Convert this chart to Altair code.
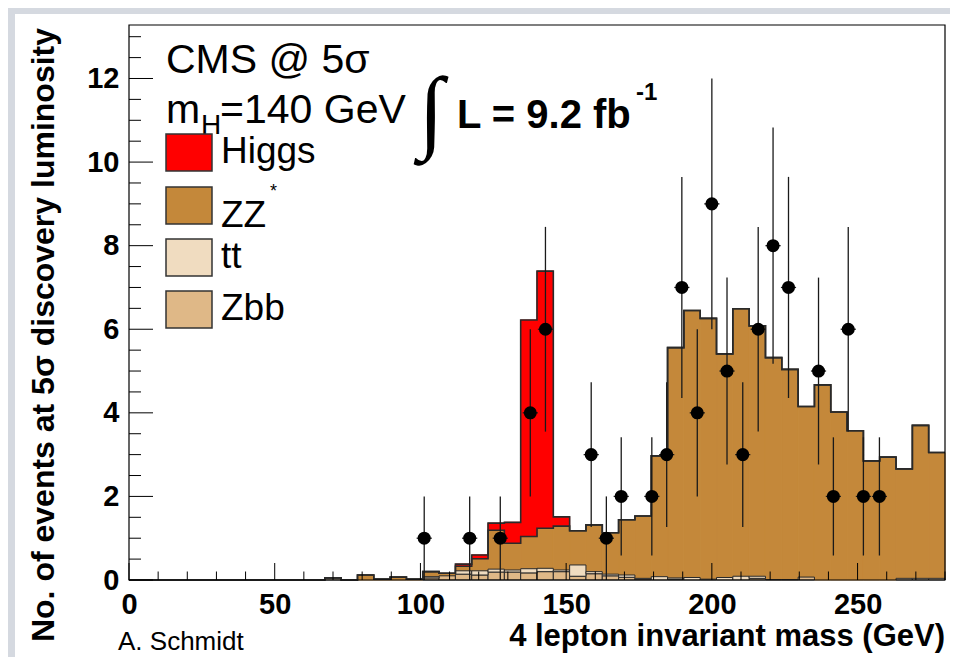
import altair as alt
import pandas as pd

# ---------------- data ----------------
# 50 bins of 5.6 GeV between 0 and 280 GeV
bin_lo = [0.0, 5.6, 11.2, 16.8, 22.4, 28.0, 33.6, 39.2, 44.8, 50.4,
          56.0, 61.6, 67.2, 72.8, 78.4, 84.0, 89.6, 95.2, 100.8, 106.4,
          112.0, 117.6, 123.2, 128.8, 134.4, 140.0, 145.6, 151.2, 156.8, 162.4,
          168.0, 173.6, 179.2, 184.8, 190.4, 196.0, 201.6, 207.2, 212.8, 218.4,
          224.0, 229.6, 235.2, 240.8, 246.4, 252.0, 257.6, 263.2, 268.8, 274.4]
BIN_W = 5.6

zbb = [0, 0, 0, 0, 0, 0, 0, 0, 0, 0,
       0, 0, 0, 0, 0, 0, 0, 0, 0.05, 0.10,
       0.14, 0.12, 0.19, 0.19, 0.17, 0.20, 0.20, 0.09, 0.15, 0.10,
       0.065, 0.02, 0, 0.02, 0, 0, 0, 0, 0.04, 0,
       0, 0.07, 0, 0, 0, 0, 0, 0, 0, 0]
tt = [0, 0, 0, 0, 0, 0, 0, 0, 0, 0,
      0, 0, 0.05, 0, 0, 0, 0, 0, 0.03, 0,
      0.08, 0.10, 0.07, 0.05, 0.10, 0.08, 0.04, 0.27, 0.05, 0.04,
      0.055, 0.02, 0.08, 0.03, 0.06, 0.02, 0.06, 0.09, 0.05, 0.01,
      0.01, 0, 0, 0, 0, 0, 0, 0.04, 0.04, 0.04]
zz = [0, 0, 0, 0, 0, 0, 0, 0, 0, 0,
      0, 0, 0, 0, 0.12, 0.02, 0.07, 0.02, 0.12, 0.06,
      0.11, 0.29, 0.93, 0.64, 0.77, 0.96, 1.05, 0.82, 1.12, 0.99,
      1.32, 1.49, 2.89, 5.51, 6.39, 6.24, 5.35, 6.40, 5.99, 5.31,
      5.03, 4.08, 4.67, 4.02, 3.57, 2.85, 2.94, 2.62, 3.66, 3.01]
higgs = [0, 0, 0, 0, 0, 0, 0, 0, 0, 0,
         0, 0, 0, 0, 0, 0, 0, 0, 0, 0,
         0.05, 0.09, 0.17, 0.50, 5.18, 6.15, 0.22, 0, 0, 0,
         0, 0, 0, 0, 0, 0, 0, 0, 0, 0,
         0, 0, 0, 0, 0, 0, 0, 0, 0, 0]

data_mass = [101.3, 116.9, 127.4, 137.7, 142.9, 158.6, 163.8, 168.9, 179.4, 184.5,
             189.7, 195.0, 200.0, 205.2, 210.6, 215.9, 221.0, 226.3, 236.6, 241.7,
             246.8, 252.0, 257.5]
data_count = [1, 1, 1, 4, 6, 3, 1, 2, 2, 3,
              7, 4, 9, 5, 3, 6, 8, 7, 5, 2,
              6, 2, 2]
DATA_HALF_W = 2.6

x_major = [0, 50, 100, 150, 200, 250]
x_minor = [v for v in range(0, 281, 10) if v % 50 != 0]
y_major = [0, 2, 4, 6, 8, 10, 12]
y_minor = [v / 2 for v in range(0, 27) if v % 4 != 0]

# ---------------- tables ----------------
rows = []
for i in range(50):
    c1 = zbb[i]
    c2 = c1 + tt[i]
    c3 = c2 + zz[i]
    c4 = c3 + higgs[i]
    rows.append(dict(lo=bin_lo[i], hi=bin_lo[i] + BIN_W, zero=0.0,
                     zbb=zbb[i], tt=tt[i], zz=zz[i], higgs=higgs[i],
                     c_zbb=c1, c_tt=c2, c_zz=c3, c_h=c4))
hist = pd.DataFrame(rows)

steps = []
for i in range(50):
    steps.append(dict(x=bin_lo[i], zzt=hist.c_zz[i], ht=hist.c_h[i]))
steps.append(dict(x=bin_lo[-1] + BIN_W, zzt=hist.c_zz[49], ht=hist.c_h[49]))
steps = pd.DataFrame(steps)

pts = pd.DataFrame(dict(m=data_mass, n=data_count))
pts["lo"] = pts.n - pts.n ** 0.5
pts["hi"] = pts.n + pts.n ** 0.5
pts["ml"] = pts.m - DATA_HALF_W
pts["mr"] = pts.m + DATA_HALF_W

W, H = 816, 555
XS = alt.Scale(domain=[0, 280], nice=False, zero=False)
YS = alt.Scale(domain=[0, 13.28], nice=False, zero=False)
FONT = "Liberation Sans"
ONE = pd.DataFrame({"a": [0]})

BROWN = "#c4883a"
CREAM = "#f0dcc0"
TAN = "#dfb887"
RED = "#ff0000"
LINE = "#2a2a2a"

XAXIS = alt.Axis(values=x_major, ticks=False, domain=False, grid=False,
                 labelFont=FONT, labelFontSize=29, labelFontWeight="bold",
                 labelColor="black", labelPadding=10, labelFlush=False,
                 labelOverlap=False, title=None, format="d", zindex=2)
YAXIS = alt.Axis(values=y_major, ticks=False, domain=False, grid=False,
                 labelFont=FONT, labelFontSize=29, labelFontWeight="bold",
                 labelColor="black", labelPadding=10, labelFlush=False,
                 labelOverlap=False, title=None, format="d", zindex=2)


def X(f):
    return alt.X(f, type="quantitative", scale=XS, axis=XAXIS, title=None)


def Y(f):
    return alt.Y(f, type="quantitative", scale=YS, axis=YAXIS, title=None)


layers = []

# white canvas panel inside the grey border
layers.append(alt.Chart(ONE).mark_rect(color="white").encode(
    x=alt.value(-114), x2=alt.value(W + 10), y=alt.value(-11), y2=alt.value(H + 80)))

# ZZ (stacked on tt + Zbb)
layers.append(alt.Chart(hist).transform_filter("datum.zz > 0").mark_rect(
    color=BROWN, stroke=BROWN, strokeWidth=1).encode(
    x=X("lo"), x2="hi", y=Y("c_tt"), y2="c_zz"))
# Zbb
layers.append(alt.Chart(hist).transform_filter("datum.zbb > 0").mark_rect(
    color=TAN, stroke=LINE, strokeWidth=1).encode(
    x=X("lo"), x2="hi", y=Y("zero"), y2="c_zbb"))
# tt
layers.append(alt.Chart(hist).transform_filter("datum.tt > 0").mark_rect(
    color=CREAM, stroke=LINE, strokeWidth=1).encode(
    x=X("lo"), x2="hi", y=Y("c_zbb"), y2="c_tt"))
# Higgs
layers.append(alt.Chart(hist).transform_filter("datum.higgs > 0").mark_rect(
    color=RED, stroke=RED, strokeWidth=1).encode(
    x=X("lo"), x2="hi", y=Y("c_zz"), y2="c_h"))
# outlines
layers.append(alt.Chart(steps).mark_line(interpolate="step-after", color=LINE,
                                         strokeWidth=1.6).encode(x=X("x"), y=Y("ht")))
layers.append(alt.Chart(steps).mark_line(interpolate="step-after", color=LINE,
                                         strokeWidth=1.6).encode(x=X("x"), y=Y("zzt")))

# data points
layers.append(alt.Chart(pts).mark_rule(color="#1a1a1a", strokeWidth=1.3).encode(
    x=X("m"), y=Y("lo"), y2="hi"))
layers.append(alt.Chart(pts).mark_rule(color="#1a1a1a", strokeWidth=1.3).encode(
    x=X("ml"), x2="mr", y=Y("n")))
layers.append(alt.Chart(pts).mark_circle(color="black", opacity=1, size=170).encode(
    x=X("m"), y=Y("n")))

# inward ticks (ROOT style)
layers.append(alt.Chart(pd.DataFrame({"v": x_major})).mark_rule(color="black").encode(
    x=X("v"), y=alt.value(H), y2=alt.value(H - 17)))
layers.append(alt.Chart(pd.DataFrame({"v": x_minor})).mark_rule(color="black").encode(
    x=X("v"), y=alt.value(H), y2=alt.value(H - 8.5)))
layers.append(alt.Chart(pd.DataFrame({"v": y_major})).mark_rule(color="black").encode(
    y=Y("v"), x=alt.value(0), x2=alt.value(24)))
layers.append(alt.Chart(pd.DataFrame({"v": y_minor})).mark_rule(color="black").encode(
    y=Y("v"), x=alt.value(0), x2=alt.value(12)))

# plot frame
layers.append(alt.Chart(ONE).mark_rect(fill=None, fillOpacity=0, stroke="black",
                                       strokeWidth=1.2).encode(
    x=alt.value(0), x2=alt.value(W), y=alt.value(0), y2=alt.value(H)))


def txt(s, x, y, size, weight="normal", align="left", baseline="alphabetic",
        angle=0, font=FONT, color="black"):
    return alt.Chart(ONE).mark_text(
        text=s, font=font, fontSize=size, fontWeight=weight, align=align,
        baseline=baseline, angle=angle, color=color).encode(
        x=alt.value(x), y=alt.value(y))


# annotations
layers.append(txt("CMS @ 5σ", 37, 48, 41))
layers.append(txt("m", 37, 98, 41))
layers.append(txt("H", 72, 109, 28))
layers.append(txt("=140 GeV", 91, 98, 41))
layers.append(txt("∫", 302, 88, 92, font="Liberation Serif", align="center",
                  baseline="middle"))
layers.append(txt("L = 9.2 fb", 328, 103, 40, weight="bold"))
layers.append(txt("-1", 507, 75, 24, weight="bold"))

# legend
leg = [("Higgs", RED, 109), ("ZZ", BROWN, 162), ("tt", CREAM, 214), ("Zbb", TAN, 266)]
for name, col, top in leg:
    layers.append(alt.Chart(ONE).mark_rect(color=col, stroke="#333", strokeWidth=1.5).encode(
        x=alt.value(37), x2=alt.value(83), y=alt.value(top), y2=alt.value(top + 37)))
    layers.append(txt(name, 92, top + 29 if name != "ZZ" else top + 40, 37))
layers.append(txt("*", 141, 172, 18))

# axis titles and credit
layers.append(txt("4 lepton invariant mass (GeV)", W, 621, 31, weight="bold",
                  align="right"))
layers.append(txt("No. of events at 5σ discovery luminosity", -75, 310, 32,
                  weight="bold", align="center", angle=270))
layers.append(txt("A. Schmidt", -11, 625, 26))

chart = alt.layer(*layers).properties(
    width=W, height=H,
    padding={"left": 121, "top": 17, "right": 5, "bottom": 77},
    autosize=alt.AutoSizeParams(type="none"),
).configure(background="#d5d9e0").configure_view(
    stroke="black", strokeWidth=1.2, fill="white")

chart.save("out.html", embed_options={"renderer": "svg", "actions": False})
